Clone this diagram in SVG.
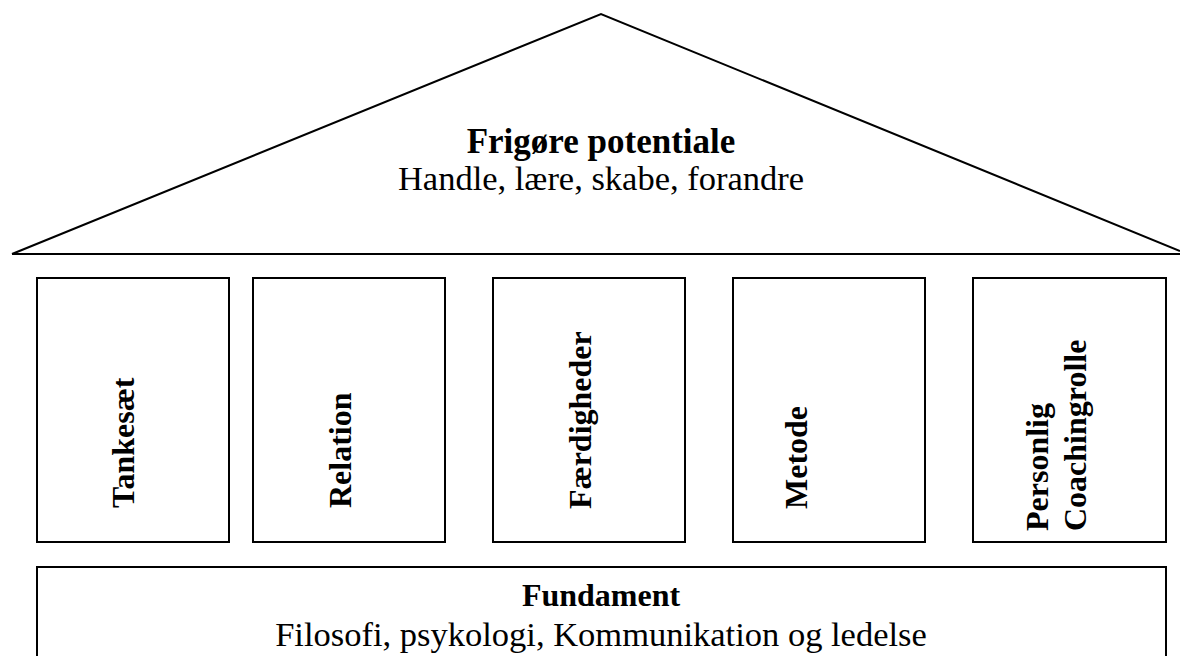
<svg xmlns="http://www.w3.org/2000/svg" width="1180" height="656" viewBox="0 0 1180 656">
<style>
.ln{fill:none;stroke:#000;stroke-width:2}
.box{fill:#fff;stroke:#000;stroke-width:2}
.t{font-family:"Liberation Serif","Times New Roman",serif;font-size:32px;fill:#000}
.b{font-weight:bold}
.r{font-size:34.5px}
</style>
<rect width="1180" height="656" fill="#fff"/>
<g id="roof">
<polyline class="ln" points="12,254 601,14 1180,251"/>
<line class="ln" x1="12" y1="254" x2="1180" y2="254"/>
<text class="t b" x="601" y="153" text-anchor="middle" style="font-size:35px">Frigøre potentiale</text>
<text class="t r" x="601" y="190" text-anchor="middle">Handle, lære, skabe, forandre</text>
</g>
<g id="pillar1">
<rect class="box" x="37" y="278" width="192" height="264"/>
<text class="t b" transform="translate(134,508) rotate(-90)">Tankesæt</text>
</g>
<g id="pillar2">
<rect class="box" x="253" y="278" width="192" height="264"/>
<text class="t b" transform="translate(351,508) rotate(-90)">Relation</text>
</g>
<g id="pillar3">
<rect class="box" x="493" y="278" width="192" height="264"/>
<text class="t b" transform="translate(591,509) rotate(-90)">Færdigheder</text>
</g>
<g id="pillar4">
<rect class="box" x="733" y="278" width="192" height="264"/>
<text class="t b" transform="translate(807,509) rotate(-90)">Metode</text>
</g>
<g id="pillar5">
<rect class="box" x="973" y="278" width="193" height="264"/>
<text class="t b" transform="translate(1048,531) rotate(-90)">Personlig</text>
<text class="t b" transform="translate(1086,531) rotate(-90)">Coachingrolle</text>
</g>
<g id="foundation">
<rect class="box" x="37" y="567" width="1129" height="110"/>
<text class="t b" x="601" y="606" text-anchor="middle">Fundament</text>
<text class="t r" x="601" y="646" text-anchor="middle">Filosofi, psykologi, Kommunikation og ledelse</text>
</g>
<g id="connectors"></g>
</svg>
